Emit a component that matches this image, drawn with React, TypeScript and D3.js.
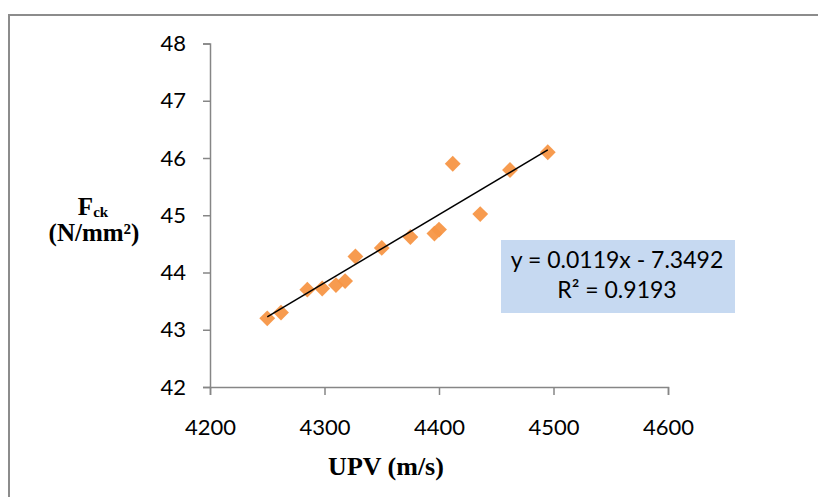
import React, { useEffect, useRef } from "react";
import * as d3 from "d3";

const upv = [4250, 4262, 4285, 4298, 4310, 4318, 4327, 4350, 4375, 4396, 4400, 4412, 4436, 4462, 4495];
const fck = [43.2, 43.3, 43.7, 43.72, 43.78, 43.85, 44.28, 44.43, 44.62, 44.68, 44.75, 45.9, 45.02, 45.79, 46.1];
const xTicks = [4200, 4300, 4400, 4500, 4600];
const yTicks = [42, 43, 44, 45, 46, 47, 48];
const slope = 0.0119;
const intercept = -7.3492;
const eqLines = ["y = 0.0119x - 7.3492", "R² = 0.9193"];

const App = () => {
  const svgRef = useRef<SVGSVGElement>(null);

  useEffect(() => {
    const width = 818;
    const height = 497;
    const svg = d3.select(svgRef.current);
    svg.selectAll("*").remove();
    svg.attr("width", width).attr("height", height);

    // outer frame
    svg
      .append("path")
      .attr("d", `M9,${height} L9,15 L${width},15`)
      .attr("fill", "none")
      .attr("stroke", "#8c8c8c")
      .attr("stroke-width", 2);

    const x = d3.scaleLinear().domain([4200, 4600]).range([210, 668]);
    const y = d3.scaleLinear().domain([42, 48]).range([387, 43.5]);

    const axisColor = "#868686";
    const tickFont = "Lato, 'Open Sans', sans-serif";

    const xAxis = svg
      .append("g")
      .attr("transform", `translate(0,${y(42)})`)
      .call(d3.axisBottom(x).tickValues(xTicks).tickFormat(d3.format("d")).tickSize(8).tickPadding(24));
    const yAxis = svg
      .append("g")
      .attr("transform", `translate(${x(4200)},0)`)
      .call(d3.axisLeft(y).tickValues(yTicks).tickFormat(d3.format("d")).tickSize(7).tickPadding(17));

    [xAxis, yAxis].forEach((g) => {
      g.select(".domain").attr("stroke", axisColor).attr("stroke-width", 1.5);
      g.selectAll(".tick line").attr("stroke", axisColor).attr("stroke-width", 1.5);
      g.selectAll(".tick text")
        .attr("fill", "#000")
        .style("font-family", tickFont)
        .style("font-size", "22px");
    });

    // points
    const diamond = d3.symbol().type(d3.symbolDiamond2).size(160);
    svg
      .append("g")
      .selectAll("path")
      .data(upv.map((v, i) => [v, fck[i]]))
      .join("path")
      .attr("d", diamond)
      .attr("transform", (d) => `translate(${x(d[0])},${y(d[1])})`)
      .attr("fill", "#F79646")
      .attr("fill-opacity", 0.95);

    // trend line
    const x0 = d3.min(upv) as number;
    const x1 = d3.max(upv) as number;
    svg
      .append("line")
      .attr("x1", x(x0))
      .attr("y1", y(slope * x0 + intercept))
      .attr("x2", x(x1))
      .attr("y2", y(slope * x1 + intercept))
      .attr("stroke", "#000")
      .attr("stroke-width", 1.5);

    // equation box
    svg
      .append("rect")
      .attr("x", 501)
      .attr("y", 240)
      .attr("width", 234)
      .attr("height", 73)
      .attr("fill", "#C6D9F1");
    svg
      .append("g")
      .selectAll("text")
      .data(eqLines)
      .join("text")
      .attr("x", 617)
      .attr("y", (d, i) => 268 + i * 30)
      .attr("text-anchor", "middle")
      .style("font-family", tickFont)
      .style("font-size", "23px")
      .text((d) => d);

    // axis titles
    const titleFont = "'Liberation Serif', 'Times New Roman', serif";
    const yt = svg
      .append("text")
      .attr("x", 93)
      .attr("y", 215)
      .attr("text-anchor", "middle")
      .style("font-family", titleFont)
      .style("font-weight", "bold")
      .style("font-size", "25px");
    yt.append("tspan").text("F");
    yt.append("tspan").attr("dy", 2).style("font-size", "15px").text("ck");
    svg
      .append("text")
      .attr("x", 94)
      .attr("y", 241)
      .attr("text-anchor", "middle")
      .style("font-family", titleFont)
      .style("font-weight", "bold")
      .style("font-size", "25px")
      .text("(N/mm²)");

    svg
      .append("text")
      .attr("x", 386)
      .attr("y", 475)
      .attr("text-anchor", "middle")
      .style("font-family", titleFont)
      .style("font-weight", "bold")
      .style("font-size", "26px")
      .text("UPV (m/s)");
  }, []);

  return (
    <div style={{ position: "absolute", left: 0, top: 0 }}>
      <svg ref={svgRef}></svg>
    </div>
  );
};

export default App;
